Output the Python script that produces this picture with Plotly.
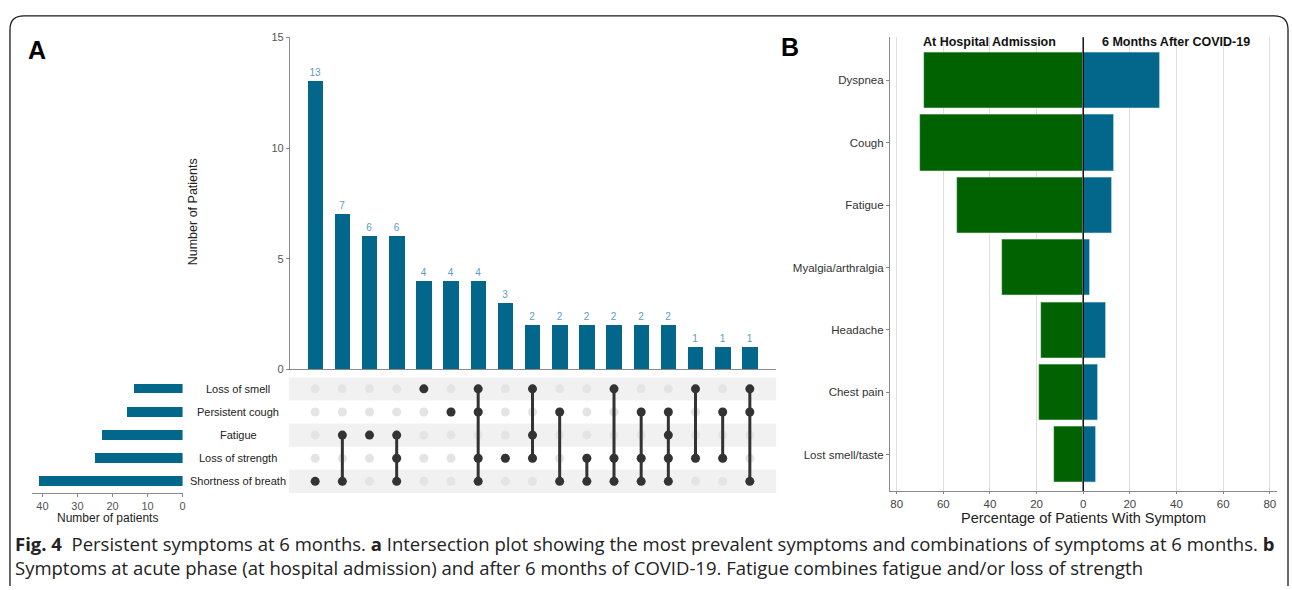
import plotly.graph_objects as go

W, H = 1292, 590

# ---------------- DATA ----------------
# Panel A: UpSet plot
set_names = ["Loss of smell", "Persistent cough", "Fatigue", "Loss of strength", "Shortness of breath"]
set_sizes = [14, 16, 23, 25, 41]
intersection_counts = [13, 7, 6, 6, 4, 4, 4, 3, 2, 2, 2, 2, 2, 2, 1, 1, 1]
intersection_members = [
    ["Shortness of breath"],
    ["Fatigue", "Shortness of breath"],
    ["Fatigue"],
    ["Fatigue", "Loss of strength", "Shortness of breath"],
    ["Loss of smell"],
    ["Persistent cough"],
    ["Loss of smell", "Persistent cough", "Loss of strength", "Shortness of breath"],
    ["Loss of strength"],
    ["Loss of smell", "Fatigue", "Loss of strength"],
    ["Persistent cough", "Shortness of breath"],
    ["Loss of strength", "Shortness of breath"],
    ["Loss of smell", "Loss of strength", "Shortness of breath"],
    ["Persistent cough", "Loss of strength", "Shortness of breath"],
    ["Persistent cough", "Fatigue", "Loss of strength", "Shortness of breath"],
    ["Loss of smell", "Loss of strength"],
    ["Persistent cough", "Loss of strength"],
    ["Loss of smell", "Persistent cough", "Shortness of breath"],
]

# Panel B: butterfly chart
symptoms = ["Dyspnea", "Cough", "Fatigue", "Myalgia/arthralgia", "Headache", "Chest pain", "Lost smell/taste"]
pct_admission = [68.5, 70, 54, 35, 18, 19, 12.7]
pct_6months = [33, 13, 12.3, 2.7, 9.6, 6.4, 5.4]
b_ticks = [-80, -60, -40, -20, 0, 20, 40, 60, 80]
b_ticktext = ["80", "60", "40", "20", "0", "20", "40", "60", "80"]

# ---------------- STYLE ----------------
BLUE = "#02678a"
GREEN = "#016201"
LABEL_BLUE = "#5a9cc5"
DARK = "#333333"
FONT = "Liberation Sans, Arial, sans-serif"
CAP_FONT = "Open Sans, sans-serif"


def px_x(p):
    return p / W


def px_y(p):
    return 1 - p / H


n_sets = len(set_names)
row_of = {name: n_sets - 1 - i for i, name in enumerate(set_names)}  # top row -> highest value
cols = list(range(len(intersection_counts)))

fig = go.Figure()

# top intersection bars
fig.add_trace(go.Bar(
    x=cols, y=intersection_counts, xaxis="x", yaxis="y",
    marker=dict(color=BLUE, line=dict(width=0)), width=0.57,
    text=[str(v) for v in intersection_counts], textposition="outside",
    textfont=dict(color=LABEL_BLUE, size=10, family=FONT), cliponaxis=False,
    hoverinfo="skip", showlegend=False,
))

# matrix: inactive dots
gx, gy = [], []
for c in cols:
    for name in set_names:
        gx.append(c)
        gy.append(row_of[name])
fig.add_trace(go.Scatter(
    x=gx, y=gy, xaxis="x", yaxis="y3", mode="markers",
    marker=dict(color="#e4e4e4", size=9), hoverinfo="skip", showlegend=False,
))
# matrix: active dots and connecting lines
for c, members in zip(cols, intersection_members):
    ys = sorted(row_of[m] for m in members)
    fig.add_trace(go.Scatter(
        x=[c] * len(ys), y=ys, xaxis="x", yaxis="y3", mode="lines+markers",
        line=dict(color=DARK, width=3), marker=dict(color=DARK, size=9),
        hoverinfo="skip", showlegend=False,
    ))

# set size bars
fig.add_trace(go.Bar(
    x=set_sizes, y=[row_of[n] for n in set_names], orientation="h",
    xaxis="x2", yaxis="y3", width=0.42,
    marker=dict(color=BLUE, line=dict(width=0)), hoverinfo="skip", showlegend=False,
))

# panel B bars
fig.add_trace(go.Bar(
    x=[-v for v in pct_admission], y=symptoms, orientation="h",
    xaxis="x4", yaxis="y4", width=0.9,
    marker=dict(color=GREEN, line=dict(color="#e8f2e8", width=0.6)),
    hoverinfo="skip", showlegend=False,
))
fig.add_trace(go.Bar(
    x=pct_6months, y=symptoms, orientation="h",
    xaxis="x4", yaxis="y4", width=0.9,
    marker=dict(color=BLUE, line=dict(color="#e6eef2", width=0.6)),
    hoverinfo="skip", showlegend=False,
))

shapes = []
# matrix row shading
for i, name in enumerate(set_names):
    r = row_of[name]
    if i % 2 == 0:
        shapes.append(dict(type="rect", xref="x domain", yref="y3", x0=0, x1=1,
                           y0=r - 0.5, y1=r + 0.5, fillcolor="#f1f1f1",
                           line=dict(width=0), layer="below"))
# zero line panel B
shapes.append(dict(type="line", xref="x4", yref="y4 domain", x0=0, x1=0, y0=0, y1=1,
                   line=dict(color="#111111", width=1.5)))


# outer rounded border
def P(x, y):
    return f"{px_x(x):.5f},{px_y(y):.5f}"


border = (f"M {P(10, 592)} L {P(10, 24)} Q {P(10, 10)} {P(24, 10)} "
          f"L {P(1277, 10)} Q {P(1291, 10)} {P(1291, 24)} L {P(1291, 592)}")
shapes.append(dict(type="path", xref="paper", yref="paper", path=border,
                   line=dict(color="#1a1a1a", width=1.3)))


def ann(x, y, text, size, color="#222222", family=FONT, xanchor="center", **kw):
    return dict(x=px_x(x), y=px_y(y), xref="paper", yref="paper", text=text,
                showarrow=False, xanchor=xanchor, yanchor="middle",
                font=dict(family=family, size=size, color=color), **kw)


annotations = []
# set name labels
for name in set_names:
    annotations.append(dict(x=px_x(239), xref="paper", y=row_of[name], yref="y3",
                            text=name, showarrow=False, xanchor="center", yanchor="middle",
                            font=dict(family=FONT, size=11, color="#222222")))
annotations += [
    ann(193, 210, "Number of Patients", 12.5, textangle=-90),
    ann(108, 523, "Number of patients", 12),
    ann(1086, 523, "Percentage of Patients With Symptom", 14.5),
    ann(992, 37, "<b>At Hospital Admission</b>", 12.5, color="#111111"),
    ann(1179, 37, "<b>6 Months After COVID-19</b>", 12.5, color="#111111"),
    ann(26, 45, "<b>A</b>", 25, color="#000000", xanchor="left"),
    ann(781, 42, "<b>B</b>", 25, color="#000000", xanchor="left"),
    ann(13, 549, ("<b>Fig. 4</b>  Persistent symptoms at 6 months. <b>a</b> Intersection plot showing the most "
                  "prevalent symptoms and combinations of symptoms at 6 months. <b>b</b>"),
        18.5, family=CAP_FONT, xanchor="left"),
    ann(13, 573, ("Symptoms at acute phase (at hospital admission) and after 6 months of COVID-19. "
                  "Fatigue combines fatigue and/or loss of strength"),
        18.5, family=CAP_FONT, xanchor="left"),
]

axis_common = dict(showgrid=False, zeroline=False, linecolor="#8a8a8a", linewidth=1,
                   tickcolor="#8a8a8a", ticklen=3, tickfont=dict(family=FONT, size=11, color="#555555"))

fig.update_layout(
    width=W, height=H, margin=dict(l=0, r=0, t=0, b=0),
    paper_bgcolor="white", plot_bgcolor="rgba(0,0,0,0)",
    barmode="overlay", bargap=0, showlegend=False,
    xaxis=dict(domain=[px_x(289.5), px_x(778)], range=[-0.97, 16.97], anchor="y",
               showline=True, showticklabels=False, ticks="",
               **{k: v for k, v in axis_common.items() if k != "ticklen"}),
    yaxis=dict(domain=[px_y(371), px_y(32)], range=[0, 15], anchor="free", position=px_x(289.5),
               showline=True, ticks="outside", tickvals=[0, 5, 10, 15], **axis_common),
    yaxis3=dict(domain=[px_y(497), px_y(379)], range=[-0.5, 4.5], visible=False, anchor="x"),
    xaxis2=dict(domain=[px_x(32), px_x(183)], range=[43, 0], anchor="y3",
                showline=True, ticks="outside", tickvals=[0, 10, 20, 30, 40], **axis_common),
    xaxis4=dict(domain=[px_x(892), px_x(1279.5)], range=[-82.9, 82.9], anchor="y4",
                showline=True, ticks="outside", tickvals=b_ticks, ticktext=b_ticktext,
                showgrid=True, gridcolor="#dedede", gridwidth=1, zeroline=False,
                linecolor="#8a8a8a", linewidth=1, tickcolor="#8a8a8a", ticklen=2,
                tickfont=dict(family=FONT, size=11.5, color="#444444")),
    yaxis4=dict(domain=[px_y(495), px_y(32)], range=[6.58, -0.69], anchor="x4",
                type="category", categoryorder="array", categoryarray=symptoms,
                showline=True, ticks="outside",
                **{k: v for k, v in axis_common.items() if k != "tickfont"},
                tickfont=dict(family=FONT, size=11.5, color="#333333")),
    shapes=shapes, annotations=annotations,
)

fig.write_html("out.html")
